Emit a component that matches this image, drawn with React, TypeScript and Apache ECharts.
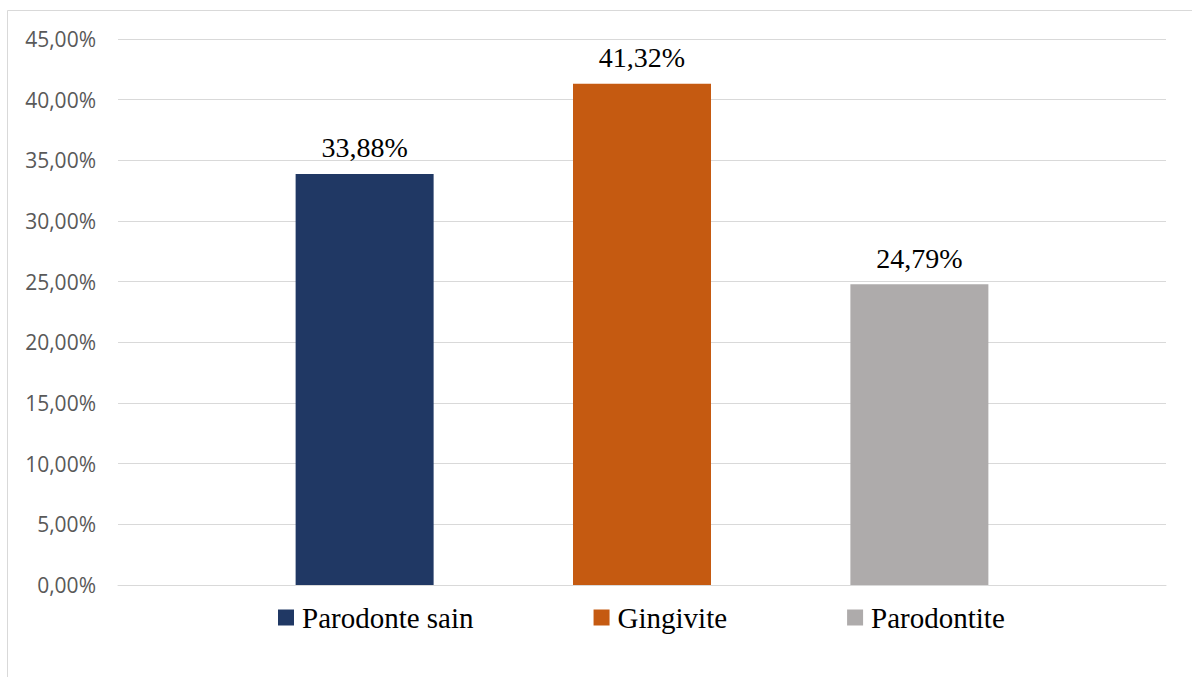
import React, { useEffect, useRef } from "react";
import * as echarts from "echarts";

const categories = [""];
const seriesNames = ["Parodonte sain", "Gingivite", "Parodontite"];
const seriesValues = [33.88, 41.32, 24.79];
const seriesColors = ["#203864", "#C55A11", "#AEABAB"];
const yMin = 0;
const yMax = 45;
const yInterval = 5;

const fmt = (v: number) => v.toFixed(2).replace(".", ",") + "%";

export default function App() {
  const ref = useRef<HTMLDivElement>(null);
  useEffect(() => {
    document.body.style.margin = "0";
    const chart = echarts.init(ref.current!, null, { renderer: "svg" });
    chart.setOption({
      animation: false,
      backgroundColor: "#ffffff",
      graphic: [
        {
          type: "rect",
          shape: { x: 7.5, y: 10.5, width: 1200, height: 700 },
          style: { fill: "none", stroke: "#d9d9d9", lineWidth: 1 },
          silent: true,
          z: -1,
        },
      ],
      grid: { left: 118, right: 26, top: 39, bottom: 92 },
      legend: {
        left: 278,
        top: 603,
        padding: 0,
        itemWidth: 16,
        itemHeight: 16,
        itemGap: 120,
        icon: "rect",
        data: seriesNames,
        textStyle: {
          fontFamily: "Liberation Serif",
          fontSize: 29,
          color: "#000000",
          padding: [0, 0, 0, 3],
        },
      },
      xAxis: {
        type: "category",
        data: categories,
        axisLine: { show: true, lineStyle: { color: "#d9d9d9", width: 1 } },
        axisTick: { show: false },
        axisLabel: { show: false },
      },
      yAxis: {
        type: "value",
        min: yMin,
        max: yMax,
        interval: yInterval,
        axisLine: { show: false },
        axisTick: { show: false },
        splitLine: { lineStyle: { color: "#d9d9d9", width: 1 } },
        axisLabel: {
          formatter: (v: number) => fmt(v),
          fontFamily: "Open Sans",
          fontSize: 21,
          color: "#595959",
          margin: 22,
        },
      },
      series: seriesNames.map((name, i) => ({
        name,
        type: "bar",
        barWidth: 138,
        barGap: "101%",
        data: [seriesValues[i]],
        itemStyle: { color: seriesColors[i] },
        label: {
          show: true,
          position: "top",
          distance: 12,
          formatter: (p: any) => fmt(p.value),
          fontFamily: "Liberation Serif",
          fontSize: 28,
          color: "#000000",
        },
      })),
    });
    return () => chart.dispose();
  }, []);
  return <div ref={ref} style={{ width: 1192, height: 677 }} />;
}
